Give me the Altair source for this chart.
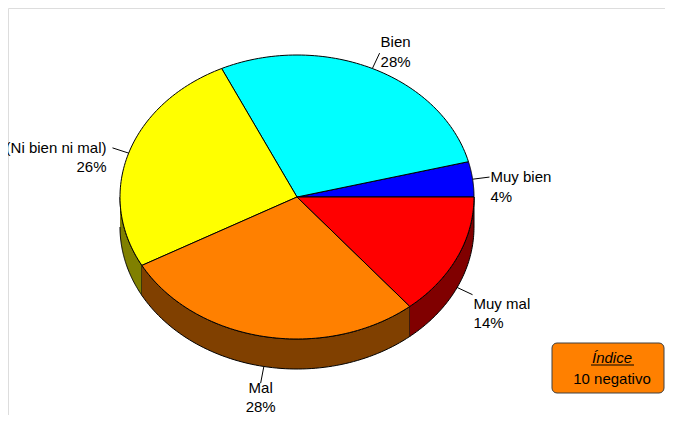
import altair as alt
import pandas as pd

# ---- data ----
categories = ["Muy bien", "Bien", "(Ni bien ni mal)", "Mal", "Muy mal"]
values = [4, 28, 26, 28, 14]

# ---- styles ----
top_colors = ["#0000FF", "#00FFFF", "#FFFF00", "#FF8000", "#FF0000"]
side_colors = ["#000080", "#008080", "#808000", "#804000", "#800000"]
FONT = "Liberation Sans"

# ---- layout (page pixel frame) ----
W, H = 657, 407
CX, CY, RX, RY, D = 297, 197, 177, 142, 30
LEAD = 17
N = 72
LH = 19.5

df = pd.DataFrame({"cat": categories, "val": values, "ord": list(range(len(values)))})

xs = alt.Scale(domain=[8, 8 + W], nice=False, zero=False)
ys = alt.Scale(domain=[8, 8 + H], nice=False, zero=False, reverse=True)

base = alt.Chart(df).transform_window(
    cum="sum(val)", sort=[alt.SortField("ord")], frame=[None, 0]
).transform_joinaggregate(total="sum(val)").transform_calculate(
    a1="2*PI*(datum.cum - datum.val)/datum.total",
    a2="2*PI*datum.cum/datum.total",
)

# side faces (front half only)
side = base.transform_calculate(
    s1="max(datum.a1, PI)", s2="min(datum.a2, 2*PI)"
).transform_filter("datum.s2 > datum.s1").transform_calculate(
    t=f"sequence(0, {2 * N + 2})"
).transform_flatten(["t"]).transform_calculate(
    k=f"datum.t <= {N} ? datum.t : {2 * N + 1} - datum.t",
).transform_calculate(
    ang=f"datum.s1 + (datum.s2 - datum.s1) * datum.k / {N}",
).transform_calculate(
    px=f"{CX} + {RX} * cos(datum.ang)",
    py=f"{CY} - {RY} * sin(datum.ang) + (datum.t > {N} ? {D} : 0)",
).mark_line(stroke="black", strokeWidth=1, strokeJoin="round").encode(
    x=alt.X("px:Q", scale=xs, axis=None),
    y=alt.Y("py:Q", scale=ys, axis=None),
    detail="cat:N",
    order="t:Q",
    fill=alt.Fill("cat:N", scale=alt.Scale(domain=categories, range=side_colors), legend=None),
)

# top faces
top = base.transform_calculate(
    t=f"sequence(-1, {N + 2})"
).transform_flatten(["t"]).transform_calculate(
    ang=f"datum.a1 + (datum.a2 - datum.a1) * clamp(datum.t, 0, {N}) / {N}",
).transform_calculate(
    px=f"(datum.t < 0 || datum.t > {N}) ? {CX} : {CX} + {RX} * cos(datum.ang)",
    py=f"(datum.t < 0 || datum.t > {N}) ? {CY} : {CY} - {RY} * sin(datum.ang)",
).mark_line(stroke="black", strokeWidth=1, strokeJoin="round").encode(
    x=alt.X("px:Q", scale=xs, axis=None),
    y=alt.Y("py:Q", scale=ys, axis=None),
    detail="cat:N",
    order="t:Q",
    fill=alt.Fill("cat:N", scale=alt.Scale(domain=categories, range=top_colors), legend=None),
)

lab = base.transform_calculate(
    m="(datum.a1 + datum.a2) / 2",
).transform_calculate(
    ex=f"{CX} + {RX} * cos(datum.m)",
    ey=f"{CY} - {RY} * sin(datum.m) + (sin(datum.m) < 0 ? {D} : 0)",
).transform_calculate(
    lx=f"datum.ex + {LEAD} * cos(datum.m)",
    ly=f"datum.ey - {LEAD} * sin(datum.m)",
    al="abs(cos(datum.m)) < 0.35 ? 'center' : (cos(datum.m) > 0 ? 'left' : 'right')",
    bl="abs(sin(datum.m)) < 0.4 ? 'middle' : (sin(datum.m) > 0 ? 'bottom' : 'top')",
    txt="datum.cat + '\\n' + datum.val + '%'",
).transform_calculate(
    tx="datum.lx + (datum.al == 'right' ? -6 : (datum.al == 'left' ? 1 : 0))",
    ty0="datum.ly + (datum.bl == 'top' ? 2 : (datum.bl == 'bottom' ? -3 : 0))",
).transform_calculate(
    ty=f"datum.bl == 'top' ? min(datum.ty0, {8 + H - 15 - LH}) : datum.ty0",
)

leaders = lab.mark_rule(color="black", strokeWidth=1).encode(
    x=alt.X("ex:Q", scale=xs, axis=None),
    y=alt.Y("ey:Q", scale=ys, axis=None),
    x2="lx:Q",
    y2="ly:Q",
)

labels = lab.mark_text(
    font=FONT, fontSize=15, lineHeight=LH, lineBreak="\n", color="black",
    align=alt.expr("datum.al"), baseline=alt.expr("datum.bl"),
).encode(
    x=alt.X("tx:Q", scale=xs, axis=None),
    y=alt.Y("ty:Q", scale=ys, axis=None),
    text="txt:N",
)

# index box
one = alt.Chart(pd.DataFrame({"k": [0]}))
box = one.mark_rect(fill="#FF8000", stroke="#404040", strokeWidth=1, cornerRadius=5).encode(
    x=alt.value(552 - 8), x2=alt.value(664 - 8), y=alt.value(343 - 8), y2=alt.value(393 - 8)
)
box_t1 = one.mark_text(font=FONT, fontSize=15, fontStyle="italic", color="black",
                       align="center", baseline="alphabetic").encode(
    x=alt.value(612 - 8), y=alt.value(363 - 8), text=alt.value("Índice")
)
box_u = one.mark_rule(color="black", strokeWidth=1).encode(
    x=alt.value(591 - 8), x2=alt.value(634 - 8), y=alt.value(365 - 8)
)
box_t2 = one.mark_text(font=FONT, fontSize=15, color="black",
                       align="center", baseline="alphabetic").encode(
    x=alt.value(612 - 8), y=alt.value(384 - 8), text=alt.value("10 negativo")
)

chart = alt.layer(side, top, leaders, labels, box, box_t1, box_u, box_t2).resolve_scale(
    fill="independent"
).properties(
    width=W, height=H, padding=0, autosize=alt.AutoSizeParams(type="none")
).configure_view(strokeWidth=0, stroke="transparent", fill="white").configure(background="white")

chart.save("out.html", embed_options={"renderer": "svg", "actions": False})
